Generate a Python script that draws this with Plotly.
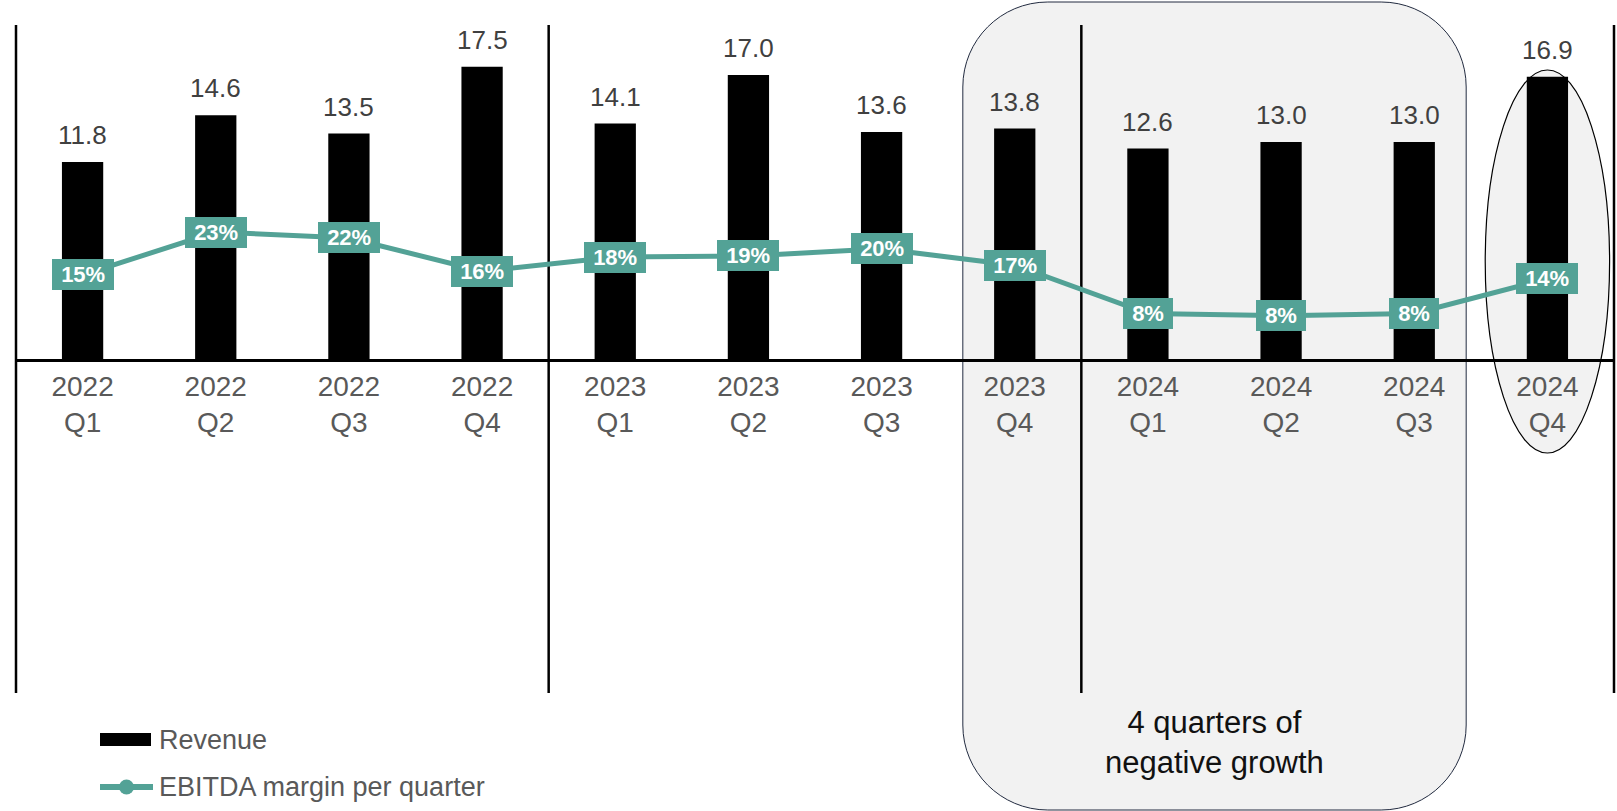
import plotly.graph_objects as go

# ---------------- data ----------------
quarters = ["2022<br>Q1", "2022<br>Q2", "2022<br>Q3", "2022<br>Q4",
            "2023<br>Q1", "2023<br>Q2", "2023<br>Q3", "2023<br>Q4",
            "2024<br>Q1", "2024<br>Q2", "2024<br>Q3", "2024<br>Q4"]
revenue = [11.8, 14.6, 13.5, 17.5, 14.1, 17.0, 13.6, 13.8, 12.6, 13.0, 13.0, 16.9]
ebitda_margin = [15.1, 23.0, 21.9, 15.8, 18.4, 18.6, 19.9, 16.9, 8.0, 7.6, 8.0, 14.4]
revenue_labels = [f"{v:.1f}" for v in revenue]
margin_labels = [f"{round(v)}%" for v in ebitda_margin]
series_names = ["Revenue", "EBITDA margin per quarter"]
note_text = "4 quarters of<br>negative growth"

# ---------------- style ----------------
W, H = 1617, 811
ML, MR, MT, MB = 16, 3, 25, 452
PW, PH = W - ML - MR, H - MT - MB
TEAL = "#53a296"
FONT = "Liberation Sans, Arial, sans-serif"
N = len(quarters)


def px_x(p):
    return (p - ML) / PW


def px_y(p):
    return (H - MB - p) / PH


def cat_x(idx):
    return (idx + 0.5) / N


fig = go.Figure()
fig.add_trace(go.Bar(
    x=quarters, y=revenue, name=series_names[0], marker_color="black",
    marker_line_width=0, width=0.31, showlegend=False, yaxis="y"))
fig.add_trace(go.Scatter(
    x=quarters, y=ebitda_margin, name=series_names[1], mode="lines+markers",
    line=dict(color=TEAL, width=5), marker=dict(color=TEAL, size=10),
    showlegend=False, yaxis="y2"))

shapes = []
# rounded highlight box
x0, x1 = cat_x(7 - 0.39), cat_x(10 + 0.39)
y0, y1 = px_y(810), px_y(2)
rx, ry = 85 / PW, 85 / PH
k = 0.5523
path = (f"M{x0+rx},{y1} L{x1-rx},{y1} "
        f"C{x1-rx+k*rx},{y1} {x1},{y1-ry+k*ry} {x1},{y1-ry} "
        f"L{x1},{y0+ry} "
        f"C{x1},{y0+ry-k*ry} {x1-rx+k*rx},{y0} {x1-rx},{y0} "
        f"L{x0+rx},{y0} "
        f"C{x0+rx-k*rx},{y0} {x0},{y0+ry-k*ry} {x0},{y0+ry} "
        f"L{x0},{y1-ry} "
        f"C{x0},{y1-ry+k*ry} {x0+rx-k*rx},{y1} {x0+rx},{y1} Z")
shapes.append(dict(type="path", path=path, xref="paper", yref="paper",
                   fillcolor="#f2f2f2", line=dict(color="#222b40", width=1),
                   layer="below"))
# ellipse around last quarter
shapes.append(dict(type="circle", xref="paper", yref="paper",
                   x0=cat_x(11 - 0.467), x1=cat_x(11 + 0.467),
                   y0=px_y(453), y1=px_y(70),
                   fillcolor="#f2f2f2", line=dict(color="black", width=1.2),
                   layer="below"))
# year dividers
for b in [0, 4, 8, 12]:
    shapes.append(dict(type="line", xref="paper", yref="paper",
                       x0=b / N, x1=b / N, y0=-1.0, y1=1.0,
                       line=dict(color="black", width=2.5), layer="below"))
# custom legend
shapes.append(dict(type="rect", xref="paper", yref="paper",
                   x0=px_x(100), x1=px_x(151), y0=px_y(746), y1=px_y(733),
                   fillcolor="black", line=dict(width=0)))
shapes.append(dict(type="line", xref="paper", yref="paper",
                   x0=px_x(100), x1=px_x(153), y0=px_y(787), y1=px_y(787),
                   line=dict(color=TEAL, width=6)))
shapes.append(dict(type="circle", xref="paper", yref="paper",
                   x0=px_x(119), x1=px_x(134), y0=px_y(794.5), y1=px_y(779.5),
                   fillcolor=TEAL, line=dict(width=0)))

annotations = []
for i in range(N):
    annotations.append(dict(
        x=i, y=revenue[i], xref="x", yref="y", text=revenue_labels[i],
        showarrow=False, yanchor="middle", yshift=27,
        font=dict(family=FONT, size=26, color="#404040")))
    annotations.append(dict(
        x=i, y=ebitda_margin[i], xref="x", yref="y2",
        text=f"&nbsp;<b>{margin_labels[i]}</b>&nbsp;",
        showarrow=False, bgcolor=TEAL, borderpad=3, borderwidth=0,
        font=dict(family=FONT, size=22, color="white")))
for name, yc in zip(series_names, [739.5, 787]):
    annotations.append(dict(
        x=px_x(157), y=px_y(yc), xref="paper", yref="paper", text=name,
        showarrow=False, xanchor="left", yanchor="middle",
        font=dict(family=FONT, size=27, color="#595959")))
annotations.append(dict(
    x=(x0 + x1) / 2, y=px_y(742.5), xref="paper", yref="paper", text=note_text,
    showarrow=False, xanchor="center", yanchor="middle",
    font=dict(family=FONT, size=31, color="#111111")))

fig.update_layout(
    width=W, height=H,
    margin=dict(l=ML, r=MR, t=MT, b=MB, pad=0),
    paper_bgcolor="white", plot_bgcolor="rgba(0,0,0,0)",
    showlegend=False,
    bargap=0.69,
    xaxis=dict(type="category", range=[-0.5, N - 0.5], showline=True,
               linecolor="black", linewidth=3, ticks="", showgrid=False,
               zeroline=False, tickfont=dict(family=FONT, size=28, color="#595959"),
               fixedrange=True),
    yaxis=dict(range=[0, 20], visible=False, fixedrange=True),
    yaxis2=dict(range=[-0.37, 61.1], overlaying="y", visible=False, fixedrange=True),
    shapes=shapes,
    annotations=annotations,
)

fig.write_html("out.html")
